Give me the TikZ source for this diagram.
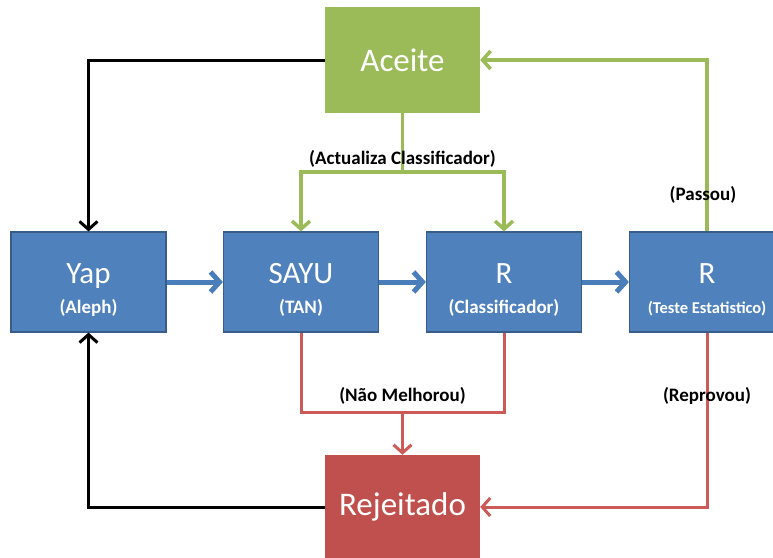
\documentclass[tikz,border=0pt]{standalone}
\usepackage{fontspec}
\setmainfont{Carlito}
\usetikzlibrary{positioning, arrows.meta}
\definecolor{stageblue}{HTML}{4F81BD}
\definecolor{stageedge}{HTML}{385D8A}
\definecolor{okgreen}{HTML}{9BBB59}
\definecolor{badred}{HTML}{C0504D}
\definecolor{linered}{HTML}{CC5B57}
\definecolor{arrowblue}{HTML}{4A7EBB}
\newcommand{\subtxt}[2][19]{{\fontsize{#1}{20}\selectfont\bfseries #2}}
\newcommand{\stagetxt}[3][19]{\rule{0pt}{35pt}#2\\\subtxt[#1]{#3}}
\tikzstyle{stage} = [rectangle, minimum width=155pt, 
minimum height=100pt, inner sep=0pt, align=center, 
draw=stageedge, line width=1.2pt, fill=stageblue, text=white, 
font=\fontsize{31}{30}\selectfont]
\tikzstyle{accept} = [rectangle, minimum width=155pt, 
minimum height=106pt, fill=okgreen, text=white, 
font=\fontsize{33}{36}\selectfont]
\tikzstyle{reject} = [rectangle, minimum width=155pt, 
minimum height=104pt, fill=badred, text=white, 
font=\fontsize{33}{36}\selectfont]
\tikzstyle{note} = [font=\fontsize{19}{20}\selectfont\bfseries, 
text=black, inner sep=0pt]
\tikzstyle{pipe} = [line width=5pt, draw=arrowblue, 
-{Straight Barb[length=9pt,width=20pt]}]
\tikzstyle{back} = [line width=3pt, draw=black, 
-{Straight Barb[length=8pt,width=18pt]}]
\tikzstyle{pass} = [line width=3.5pt, draw=okgreen, 
-{Straight Barb[length=8pt,width=18pt]}]
\tikzstyle{fail} = [line width=3pt, draw=linered, 
-{Straight Barb[length=8pt,width=18pt]}]

\begin{document}
\begin{tikzpicture}[x=1pt, y=1pt, node distance=203pt]

\useasboundingbox (0,0) rectangle (773,-557);

\node (yap) [stage] at (88.5,-282) {\stagetxt{Yap}{(Aleph)}};

\node (sayu) [stage, right of=yap, xshift=9.5pt] 
{\stagetxt{SAYU}{(TAN)}};

\node (clf) [stage, right of=sayu] 
{\stagetxt{R}{(Classificador)}};

\node (stat) [stage, right of=clf] 
{\stagetxt[16.5]{R}{(Teste Estatistico)}};

%--------------------------------------------------
\node (aceite) [accept, above of=sayu, xshift=101.5pt, yshift=19pt] 
{Aceite};

\node (rejeitado) [reject, below of=sayu, xshift=101.5pt, yshift=-22pt] 
{Rejeitado};

\path (aceite.south) ++(0,-59) coordinate (split);
\path (rejeitado.north) ++(0,42) coordinate (join);

%-------main chain-------------------
\draw [pipe] (yap) -- (sayu);
\draw [pipe] (sayu) -- (clf);
\draw [pipe] (clf) -- (stat);

%----------arrows for aceite----------------
\draw [okgreen, line width=3.5pt] (aceite.south) -- (split);
\draw [pass] (split) -| (sayu.north);
\draw [pass] (split) -| (clf.north);
\draw [pass] (stat.north) |- (aceite.east);
\draw [back] (aceite.west) -| (yap.north);

%----------arrows for rejeitado----------------
\draw [linered, line width=3pt] (sayu.south) |- (join) -| (clf.south);
\draw [fail] (join) -- (rejeitado.north);
\draw [fail] (stat.south) |- (rejeitado.east);
\draw [back] (rejeitado.west) -| (yap.south);

%-----------labels--------------
\node (updnote) [note, above=5pt of split] {(Actualiza Classificador)};
\node (passnote) [note, above=28pt of stat.north, xshift=-4pt] {(Passou)};
\node (worsenote) [note, above=8pt of join] {(Não Melhorou)};
\node (failnote) [note, below=55pt of stat.south] {(Reprovou)};

\end{tikzpicture}
\end{document}
